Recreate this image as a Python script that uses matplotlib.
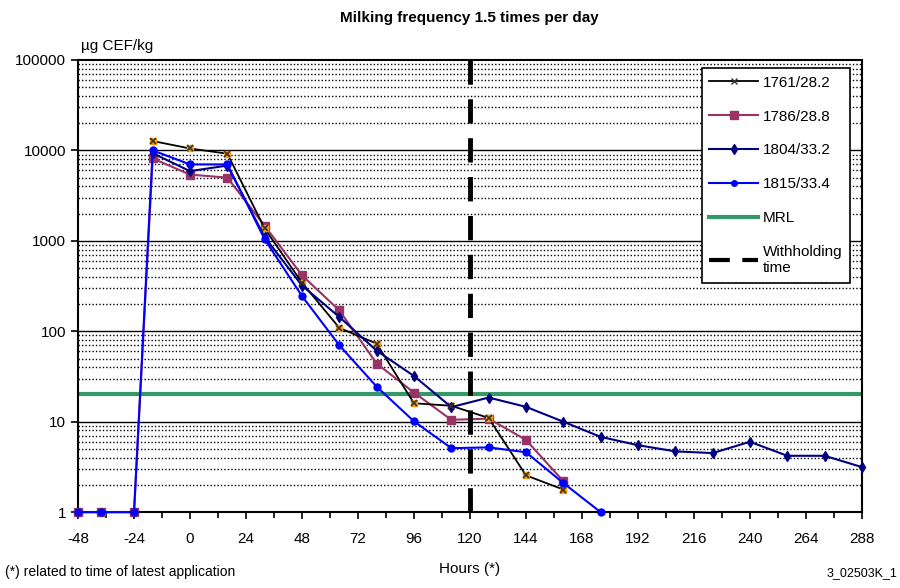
import numpy as np
import matplotlib.pyplot as plt
from matplotlib.ticker import FixedLocator, NullFormatter
from matplotlib.lines import Line2D

plt.rcParams['font.family'] = ['Liberation Sans', 'DejaVu Sans']
plt.rcParams['axes.unicode_minus'] = False

# data (hours, µg CEF/kg)
h1761 = [-16, 0, 16, 32, 48, 64, 80, 96, 112, 128, 144, 160]
v1761 = [12700, 10500, 9200, 1370, 344, 109, 73, 16, 15, 11, 2.55, 1.78]

h1786 = [-48, -38, -24, -16, 0, 16, 32, 48, 64, 80, 96, 112, 128, 144, 160]
v1786 = [1, 1, 1, 8150, 5400, 5000, 1470, 416, 170, 44, 21, 10.5, 10.8, 6.3, 2.2]

h1804 = [-16, 0, 16, 32, 48, 64, 80, 96, 112, 128, 144, 160, 176, 192, 208,
         224, 240, 256, 272, 288]
v1804 = [9300, 5900, 6800, 1100, 320, 144, 61, 32, 14.5, 18.5, 14.6, 10, 6.8,
         5.5, 4.7, 4.5, 6.0, 4.2, 4.2, 3.15]

h1815 = [-48, -38, -24, -16, 0, 16, 32, 48, 64, 80, 96, 112, 128, 144, 160, 176]
v1815 = [1, 1, 1, 10000, 7000, 7000, 1040, 245, 70, 24.4, 10.1, 5.1, 5.2, 4.6,
         2.1, 1.0]

mrl = 20
withholding = 120
xticks = list(range(-48, 289, 24))

fig = plt.figure(figsize=(9, 5.88), dpi=100)
ax = fig.add_axes([0.0867, 0.129, 0.871, 0.769])
ax.set_yscale('log')
ax.set_xlim(-48, 288)
ax.set_ylim(1, 100000)

# grid: solid decades, dotted minors
for d in [10, 100, 1000, 10000]:
    ax.axhline(d, color='black', lw=1, zorder=1)
for d in [1, 10, 100, 1000, 10000]:
    for k in range(2, 10):
        ax.axhline(d * k, color='black', lw=1, ls=(0, (1, 1.5)), zorder=1)

ax.axhline(mrl, color='#339966', lw=3, zorder=2)

ax.plot(h1786, v1786, color='#993366', marker='s', ms=6, lw=1.5,
        zorder=3, clip_on=False)
ax.plot(h1761, v1761, color='black', marker='s', ms=5, mfc='#FF9900',
        mec='#FF9900', lw=1.3, zorder=4, clip_on=False)
ax.plot(h1761, v1761, ls='none', marker='x', ms=4, mew=1.2, color='#333333',
        zorder=5, clip_on=False)
ax.plot(h1804, v1804, color='#000080', marker='d', ms=5, lw=1.5,
        zorder=4, clip_on=False)
ax.plot(h1815, v1815, color='#0000FF', marker='o', ms=5, lw=1.5,
        zorder=4, clip_on=False)
ax.axvline(withholding, color='black', lw=3.5, ls=(0, (5, 3)), zorder=6)

ax.xaxis.set_major_locator(FixedLocator(xticks))
ax.xaxis.set_minor_locator(FixedLocator(list(range(-48, 289, 12))))
ax.set_yticks([1, 10, 100, 1000, 10000, 100000])
ax.set_yticklabels(['1', '10', '100', '1000', '10000', '100000'])
ax.yaxis.set_minor_formatter(NullFormatter())
ax.tick_params(axis='y', which='minor', length=0)
ax.tick_params(axis='both', which='major', labelsize=11, direction='out',
               length=5, width=1.2, color='black')
ax.tick_params(axis='x', which='minor', direction='out', length=4, width=1.2)
ax.tick_params(axis='x', pad=9)
for s in ax.spines.values():
    s.set_linewidth(1.5)
    s.set_color('black')

fig.text(0.522, 0.962, 'Milking frequency 1.5 times per day', fontsize=11,
         fontweight='bold', ha='center')
ax.set_xlabel('Hours (*)', fontsize=11, labelpad=12)
fig.text(0.09, 0.915, 'µg CEF/kg', fontsize=11, ha='left')
fig.text(0.006, 0.02, '(*) related to time of latest application', fontsize=10)
fig.text(0.997, 0.02, '3_02503K_1', fontsize=9, ha='right')

handles = [
    Line2D([], [], color='black', marker='x', ms=5, mec='#333333',
           mfc='#FF9900', lw=1.3),
    Line2D([], [], color='#993366', marker='s', ms=6, lw=1.5),
    Line2D([], [], color='#000080', marker='d', ms=5, lw=1.5),
    Line2D([], [], color='#0000FF', marker='o', ms=4, lw=1.5),
    Line2D([], [], color='#339966', lw=3),
    Line2D([], [], color='black', lw=3, ls=(0, (5, 3))),
]
labels = ['1761/28.2', '1786/28.8', '1804/33.2', '1815/33.4', 'MRL',
          'Withholding\ntime']
leg = ax.legend(handles, labels, loc='upper right', bbox_to_anchor=(0.985, 0.982),
                borderaxespad=0, fontsize=11, frameon=True, fancybox=False,
                framealpha=1, edgecolor='black', labelspacing=1.3,
                handlelength=3.2, handletextpad=0.3, borderpad=0.5)
leg.get_frame().set_linewidth(1.2)
leg.set_zorder(10)

fig.savefig('out.png', dpi=100)
